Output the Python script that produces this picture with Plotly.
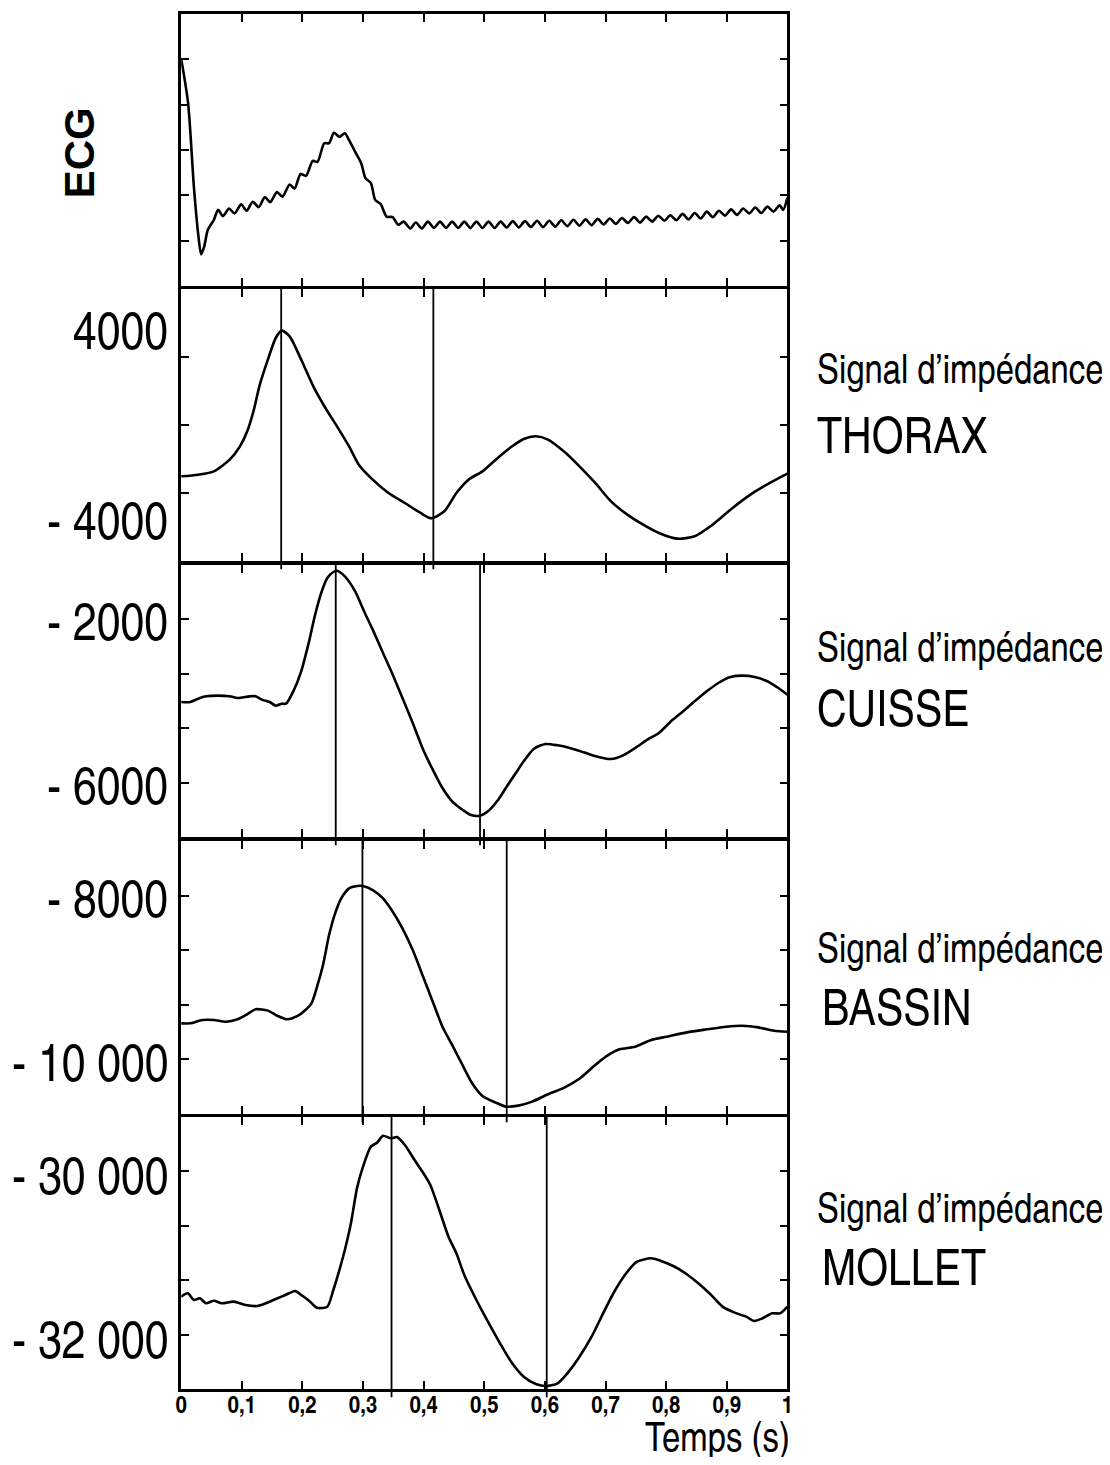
import plotly.graph_objects as go

# page body has an 8px margin: the figure is sized/positioned to compensate
OFF = 8
W, H = 1110 - 2 * OFF, 1465 - 2 * OFF

# ---------------- data ----------------
ecg_t = [0.000, 0.0115, 0.021, 0.028, 0.033, 0.038, 0.044, 0.054, 0.061, 0.069, 0.079, 0.088,
         0.099, 0.108, 0.118, 0.128, 0.138, 0.147, 0.158, 0.167, 0.179, 0.187, 0.197, 0.206,
         0.217, 0.225, 0.236, 0.244, 0.252, 0.261, 0.270, 0.277, 0.287, 0.297, 0.304, 0.313,
         0.320, 0.329, 0.339, 0.349, 0.358, 0.367, 0.378, 0.387, 0.397, 0.407,
         0.417, 0.427, 0.437, 0.447, 0.457, 0.467, 0.477, 0.487, 0.497, 0.507, 0.517, 0.527,
         0.537, 0.547, 0.557, 0.567, 0.577, 0.587, 0.597, 0.607, 0.617, 0.627, 0.637, 0.647,
         0.657, 0.667, 0.677, 0.687, 0.697, 0.707, 0.717, 0.727, 0.737, 0.747, 0.757, 0.767,
         0.777, 0.787, 0.797, 0.807, 0.817, 0.827, 0.837, 0.847, 0.857, 0.867, 0.877, 0.887,
         0.897, 0.907, 0.917, 0.927, 0.937, 0.947, 0.957, 0.967, 0.977, 0.987, 0.993, 1.000]
ecg_v = [5.02, 4.03, 2.19, 1.16, 0.70, 0.87, 1.24, 1.46, 1.68, 1.54, 1.71, 1.60,
         1.80, 1.66, 1.86, 1.74, 1.96, 1.85, 2.07, 1.97, 2.24, 2.15, 2.47, 2.43,
         2.76, 2.74, 3.15, 3.15, 3.38, 3.29, 3.37, 3.22, 2.96, 2.71, 2.38, 2.27,
         1.90, 1.81, 1.53, 1.52, 1.35, 1.42, 1.27, 1.40, 1.27, 1.42,
         1.28, 1.42, 1.28, 1.42, 1.28, 1.42, 1.28, 1.42, 1.28, 1.42, 1.28, 1.42,
         1.29, 1.43, 1.29, 1.43, 1.30, 1.44, 1.30, 1.44, 1.31, 1.45, 1.32, 1.46,
         1.33, 1.47, 1.34, 1.48, 1.36, 1.49, 1.37, 1.50, 1.39, 1.52, 1.40, 1.53,
         1.42, 1.55, 1.44, 1.56, 1.45, 1.59, 1.47, 1.61, 1.49, 1.64, 1.52, 1.66,
         1.55, 1.69, 1.57, 1.71, 1.60, 1.73, 1.61, 1.75, 1.64, 1.78, 1.68, 1.95]

thorax_t = [0.000, 0.028, 0.054, 0.080, 0.097, 0.110, 0.120, 0.129, 0.143, 0.156, 0.166, 0.179,
            0.198, 0.218, 0.238, 0.257, 0.277, 0.293, 0.316, 0.342, 0.369, 0.395, 0.413, 0.434,
            0.454, 0.474, 0.497, 0.519, 0.546, 0.565, 0.585, 0.605, 0.631, 0.657, 0.683, 0.709,
            0.736, 0.762, 0.788, 0.818, 0.847, 0.873, 0.906, 0.939, 0.971, 1.000]
thorax_v = [-2245, -2175, -2035, -1544, -982, -281, 561, 1543, 2666, 3579, 3887, 3649,
            2666, 1543, 631, -140, -982, -1754, -2385, -2947, -3368, -3789, -4013, -3719,
            -2947, -2385, -2035, -1544, -982, -674, -561, -701, -1193, -1824, -2526, -3298,
            -3859, -4280, -4631, -4870, -4771, -4350, -3649, -3017, -2526, -2133]

cuisse_t = [0.000, 0.015, 0.028, 0.041, 0.061, 0.080, 0.093, 0.113, 0.123, 0.133, 0.146, 0.156,
            0.166, 0.173, 0.185, 0.198, 0.211, 0.221, 0.231, 0.241, 0.251, 0.257, 0.270, 0.287,
            0.303, 0.316, 0.333, 0.349, 0.365, 0.382, 0.398, 0.415, 0.431, 0.447, 0.464, 0.477,
            0.493, 0.506, 0.523, 0.539, 0.552, 0.565, 0.582, 0.601, 0.621, 0.641, 0.664, 0.684,
            0.696, 0.709, 0.729, 0.749, 0.769, 0.788, 0.808, 0.828, 0.847, 0.867, 0.886, 0.906,
            0.926, 0.946, 0.965, 0.985, 1.000]
cuisse_v = [-4024, -4024, -3943, -3886, -3870, -3886, -3927, -3886, -3886, -3967, -4024, -4114,
            -4065, -4065, -3764, -3276, -2545, -1895, -1366, -1000, -854, -822, -959, -1325,
            -1854, -2260, -2829, -3358, -3927, -4537, -5146, -5675, -6122, -6447, -6651, -6773,
            -6797, -6690, -6407, -6041, -5756, -5471, -5163, -5049, -5081, -5146, -5252, -5349,
            -5390, -5415, -5325, -5146, -4944, -4780, -4496, -4252, -4008, -3764, -3561, -3415,
            -3382, -3415, -3505, -3683, -3846]

bassin_t = [0.000, 0.015, 0.035, 0.054, 0.074, 0.093, 0.107, 0.123, 0.143, 0.159, 0.175, 0.192,
            0.205, 0.215, 0.225, 0.234, 0.244, 0.254, 0.264, 0.277, 0.290, 0.300, 0.316, 0.333,
            0.349, 0.365, 0.382, 0.398, 0.415, 0.431, 0.447, 0.464, 0.480, 0.497, 0.519, 0.536,
            0.556, 0.579, 0.605, 0.632, 0.658, 0.683, 0.703, 0.723, 0.749, 0.775, 0.801, 0.834,
            0.867, 0.899, 0.926, 0.952, 0.978, 1.000]
bassin_v = [-9553, -9553, -9512, -9512, -9533, -9504, -9451, -9382, -9398, -9463, -9504, -9463,
            -9390, -9309, -9085, -8841, -8476, -8211, -8028, -7906, -7878, -7878, -7927, -8028,
            -8191, -8394, -8659, -8963, -9289, -9594, -9817, -10061, -10284, -10439, -10520, -10569,
            -10557, -10508, -10418, -10337, -10223, -10061, -9947, -9870, -9838, -9756, -9716, -9663,
            -9626, -9594, -9582, -9602, -9643, -9655]

mollet_t = [0.000, 0.011, 0.021, 0.031, 0.041, 0.054, 0.067, 0.087, 0.106, 0.126, 0.146, 0.159,
            0.172, 0.188, 0.198, 0.211, 0.224, 0.241, 0.251, 0.261, 0.270, 0.280, 0.290, 0.300,
            0.313, 0.323, 0.333, 0.346, 0.356, 0.369, 0.385, 0.398, 0.411, 0.424, 0.441, 0.454,
            0.467, 0.487, 0.506, 0.526, 0.546, 0.565, 0.585, 0.601, 0.621, 0.637, 0.657, 0.677,
            0.696, 0.716, 0.736, 0.752, 0.775, 0.795, 0.814, 0.834, 0.853, 0.873, 0.893, 0.913,
            0.932, 0.945, 0.959, 0.975, 0.988, 1.000]
mollet_v = [-31514, -31473, -31555, -31534, -31595, -31563, -31595, -31575, -31616, -31628, -31575, -31534,
            -31494, -31445, -31494, -31563, -31649, -31636, -31433, -31189, -30945, -30620, -30193, -29929,
            -29685, -29637, -29551, -29583, -29567, -29665, -29848, -29990, -30152, -30417, -30783, -30986,
            -31250, -31555, -31819, -32083, -32327, -32490, -32579, -32604, -32571, -32449, -32246, -32002,
            -31717, -31433, -31210, -31088, -31046, -31088, -31149, -31241, -31351, -31485, -31636, -31709,
            -31758, -31811, -31778, -31717, -31717, -31636]

# marker times (vertical lines)
thorax_marks = [0.165, 0.416]
cuisse_marks = [0.255, 0.493]
bassin_marks = [0.299, 0.537]
mollet_marks = [0.347, 0.603]

# value labels on the left
thorax_lab_vals, thorax_lab_text = [4000, -4000], ["4000", "- 4000"]
cuisse_lab_vals, cuisse_lab_text = [-2000, -6000], ["- 2000", "- 6000"]
bassin_lab_vals, bassin_lab_text = [-8000, -10000], ["- 8000", "- 10 000"]
mollet_lab_vals, mollet_lab_text = [-30000, -32000], ["- 30 000", "- 32 000"]

x_tick_vals = [0, 0.1, 0.2, 0.3, 0.4, 0.5, 0.6, 0.7, 0.8, 0.9, 1.0]
x_tick_text = ["0", "0,1", "0,2", "0,3", "0,4", "0,5", "0,6", "0,7", "0,8", "0,9", "1"]

site_names = ["THORAX", "CUISSE", "BASSIN", "MOLLET"]

# ---------------- layout helpers ----------------
NARROW = "TeX Gyre Heros Cn, Archivo Narrow, Roboto Condensed, Liberation Sans, sans-serif"
BOLD = "Liberation Sans, Arial, sans-serif"


def px_x(x):
    return (x - OFF) / W


def px_y(y):
    return 1 - (y - OFF) / H


panel_px = [(14, 286), (289, 561), (565, 837), (841, 1114), (1117, 1389)]
x_px = (177, 790)

panels = [
    dict(t=ecg_t, v=ecg_v, rng=[0, 6], ndiv=6, marks=[], lv=[], lt=[]),
    dict(t=thorax_t, v=thorax_v, rng=[-5810, 5641], ndiv=4, marks=thorax_marks,
         lv=thorax_lab_vals, lt=thorax_lab_text),
    dict(t=cuisse_t, v=cuisse_v, rng=[-7317, -683], ndiv=5, marks=cuisse_marks,
         lv=cuisse_lab_vals, lt=cuisse_lab_text),
    dict(t=bassin_t, v=bassin_v, rng=[-10659, -7329], ndiv=5, marks=bassin_marks,
         lv=bassin_lab_vals, lt=bassin_lab_text),
    dict(t=mollet_t, v=mollet_v, rng=[-32640, -29323], ndiv=5, marks=mollet_marks,
         lv=mollet_lab_vals, lt=mollet_lab_text),
]

fig = go.Figure()
layout = dict(
    width=W, height=H, autosize=False,
    margin=dict(l=0, r=0, t=0, b=0),
    paper_bgcolor="white", plot_bgcolor="white",
    showlegend=False,
)
annotations = []
shapes = []

for i, p in enumerate(panels):
    n = i + 1
    sfx = "" if n == 1 else str(n)
    top, bot = panel_px[i]
    ydom = [px_y(bot), px_y(top)]
    xdom = [px_x(x_px[0]), px_x(x_px[1])]
    last = (n == len(panels))

    fig.add_trace(go.Scatter(
        x=p["t"], y=p["v"], mode="lines",
        line=dict(color="black", width=2.6, shape="spline", smoothing=0.7),
        xaxis="x" + sfx, yaxis="y" + sfx, hoverinfo="skip",
    ))

    lo, hi = p["rng"]
    ytv = [lo + (hi - lo) * k / p["ndiv"] for k in range(1, p["ndiv"])]

    layout["xaxis" + sfx] = dict(
        domain=xdom, anchor="y" + sfx, range=[0, 1],
        showgrid=False, zeroline=False,
        showline=True, linecolor="black", linewidth=2.5, mirror="ticks",
        ticks="inside", ticklen=8, tickwidth=2, tickcolor="black",
        tickmode="array", tickvals=x_tick_vals, ticktext=x_tick_text,
        showticklabels=last,
        tickfont=dict(family=NARROW, size=25, color="black", weight="bold"),
        ticklabelstandoff=-9,
        fixedrange=True,
    )
    layout["yaxis" + sfx] = dict(
        domain=ydom, anchor="x" + sfx, range=[lo, hi],
        showgrid=False, zeroline=False,
        showline=True, linecolor="black", linewidth=2.5, mirror="ticks",
        ticks="inside", ticklen=8, tickwidth=2, tickcolor="black",
        tickmode="array", tickvals=ytv, showticklabels=False,
        fixedrange=True,
    )

    for m in p["marks"]:
        shapes.append(dict(
            type="line", xref="x" + sfx, yref="y" + sfx + " domain",
            x0=m, x1=m, y0=-0.03, y1=1.0,
            line=dict(color="black", width=1.8),
        ))

    for val, txt in zip(p["lv"], p["lt"]):
        annotations.append(dict(
            xref="paper", yref="y" + sfx, x=px_x(166), y=val,
            xanchor="right", yanchor="middle", showarrow=False, text=txt,
            font=dict(family=NARROW, size=52, color="black"),
        ))

right_rows = [(367, 433, 818, 818), (645, 706, 818, 818), (945, 1005, 818, 823), (1205, 1265, 818, 823)]
for name, (y1, y2, x1, x2) in zip(site_names, right_rows):
    annotations.append(dict(
        xref="paper", yref="paper", x=px_x(x1), y=px_y(y1),
        xanchor="left", yanchor="middle", showarrow=False,
        text="Signal d\u2019impédance",
        font=dict(family=NARROW, size=40, color="black"),
    ))
    annotations.append(dict(
        xref="paper", yref="paper", x=px_x(x2), y=px_y(y2),
        xanchor="left", yanchor="middle", showarrow=False, text=name,
        font=dict(family=NARROW, size=50, color="black"),
    ))

annotations.append(dict(
    xref="paper", yref="paper", x=px_x(74), y=px_y(153),
    xanchor="center", yanchor="middle", showarrow=False, text="ECG", textangle=-90,
    font=dict(family=BOLD, size=42, color="black", weight="bold"),
))

annotations.append(dict(
    xref="paper", yref="paper", x=px_x(795), y=0, yshift=-7,
    xanchor="right", yanchor="bottom", showarrow=False, text="Temps (s)",
    font=dict(family=NARROW, size=40, color="black"),
))

layout["annotations"] = annotations
layout["shapes"] = shapes
fig.update_layout(**layout)

fig.write_html("out.html")
